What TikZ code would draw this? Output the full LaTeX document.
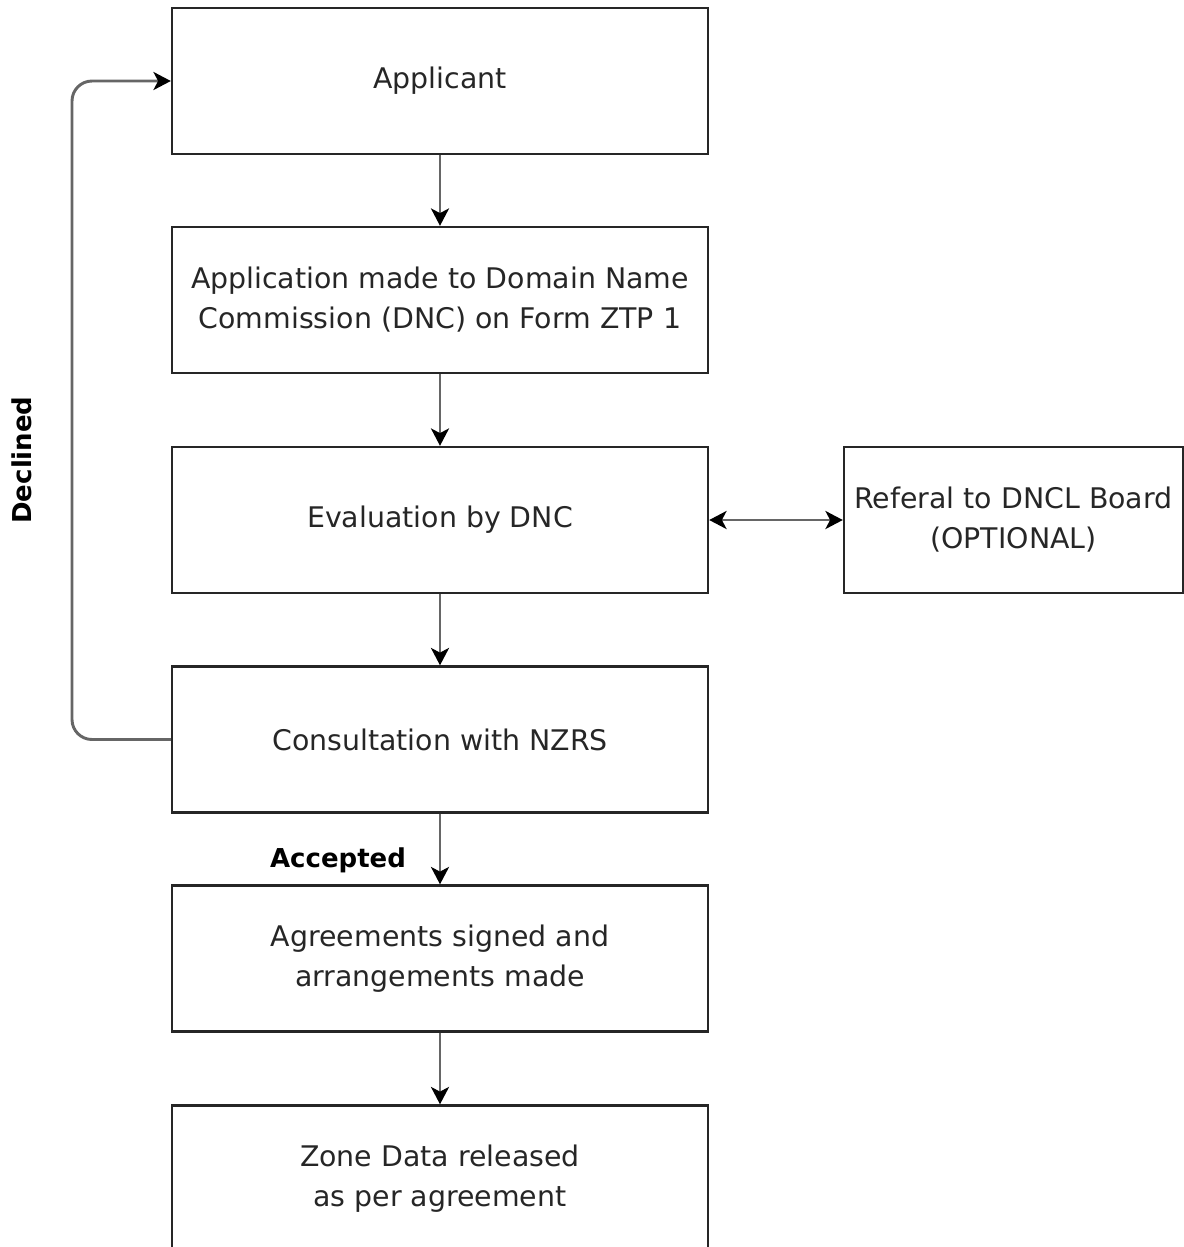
\documentclass[tikz,border=0pt]{standalone}
\usepackage{fontspec}
\setmainfont{DejaVu Sans}
\usetikzlibrary{arrows.meta}
\begin{document}
\begin{tikzpicture}[x=0.75pt,y=-0.75pt,
  tip/.style={Stealth[length=13pt,width=13.5pt,inset=3.5pt,black]},
  box/.style={draw=black!85,line width=1.8pt,minimum width=536*0.75pt,minimum height=146*0.75pt,align=center,inner sep=0pt,font=\fontsize{21.3}{30}\selectfont,text=black!85},
  conn/.style={draw=black!60,line width=2.2pt,-{Stealth[length=13pt,width=13.5pt,inset=3.5pt,black]}},
  lbl/.style={font=\fontsize{19.5}{22}\selectfont\bfseries}
]
\useasboundingbox (0,0) rectangle (1184,1247);
\node[box] (app) at (440,81) {Applicant};
\node[box] (form) at (440,300) {Application made to Domain Name\\Commission (DNC) on Form ZTP 1};
\node[box] (eval) at (440,520) {Evaluation by DNC};
\node[box] (cons) at (440,739.5) {Consultation with NZRS};
\node[box] (agr) at (440,958.5) {Agreements signed and\\arrangements made};
\node[box] (zone) at (440,1178.5) {Zone Data released\\as per agreement};
\node[box,minimum width=339*0.75pt] (ref) at (1013.5,520) {Referal to DNCL Board\\(OPTIONAL)};
\draw[conn] (app) -- (form);
\draw[conn] (form) -- (eval);
\draw[conn] (eval) -- (cons);
\draw[conn] (cons) -- (agr);
\draw[conn] (agr) -- (zone);
\draw[conn,{Stealth[length=13pt,width=13.5pt,inset=3.5pt,black]}-{Stealth[length=13pt,width=13.5pt,inset=3.5pt,black]}] (eval) -- (ref);
\coordinate (lb) at (72,739.5);
\coordinate (lt) at (72,81);
\draw[conn,rounded corners=15pt] (cons.west) -- (lb) -- (lt) -- (app.west);
\node[lbl,rotate=90] (dec) at (22,460) {Declined};
\node[lbl] (acc) at (338,860) {Accepted};
\end{tikzpicture}
\end{document}
